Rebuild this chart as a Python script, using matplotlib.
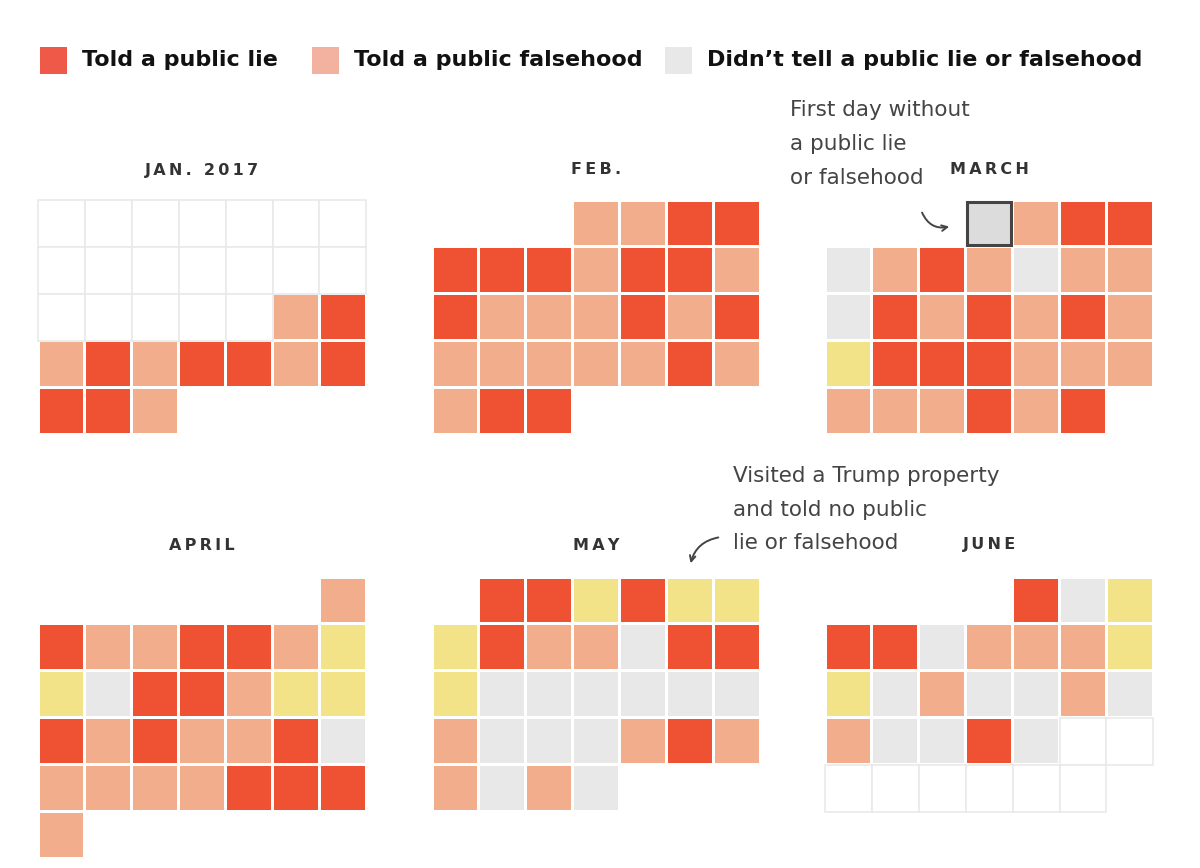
import matplotlib
matplotlib.use("Agg")
import matplotlib.pyplot as plt
from matplotlib.patches import Rectangle
import calendar

# ---- data: one code per day (0 = no data yet, L = lie, F = falsehood,
#      N = no lie/falsehood, Y = visited a Trump property, no lie) ----
months = ["JAN. 2017", "FEB.", "MARCH", "APRIL", "MAY", "JUNE"]
month_numbers = [1, 2, 3, 4, 5, 6]
year = 2017
jan = list("0" * 19 + "FL" + "FLFLLFL" + "LLF")
feb = list("FFLL" + "LLLFLLF" + "LFFFLFL" + "FFFFFLF" + "FLL")
mar = list("NFLL" + "NFLFNFF" + "NLFLFLF" + "YLLLFFF" + "FFFLFL")
apr = list("F" + "LFFLLFY" + "YNLLFYY" + "LFLFFLN" + "FFFFLLL" + "F")
may = list("LLYLYY" + "YLFFNLL" + "YNNNNNN" + "FNNNFLF" + "FNFN")
jun = list("LNY" + "LLNFFFY" + "YNFNNFN" + "FNNLN00" + "000000")
month_days = [jan, feb, mar, apr, may, jun]
highlight = (2, 1)  # March 1: first day without a lie

legend_labels = ["Told a public lie", "Told a public falsehood",
                 "Didn\u2019t tell a public lie or falsehood"]
note_march = ["First day without", "a public lie", "or falsehood"]
note_may = ["Visited a Trump property", "and told no public", "lie or falsehood"]

colors = {"L": "#ee5232", "F": "#f2ae8c", "N": "#e8e8e8", "Y": "#f3e388"}
legend_colors = ["#ef5a48", "#f3b2a0", "#e8e8e8"]

# ---- layout (pixel space) ----
W, H = 1200, 868
fig = plt.figure(figsize=(W / 100, H / 100), dpi=100)
ax = fig.add_axes([0, 0, 1, 1])
ax.set_xlim(0, W)
ax.set_ylim(H, 0)
ax.axis("off")

col_x0 = [38, 432, 825]
row_y0 = [200, 577]
title_y = [170, 545]
pitch = 46.9
gap = 3.0

for mi, (name, mnum, days) in enumerate(zip(months, month_numbers, month_days)):
    gx = col_x0[mi % 3]
    gy = row_y0[mi // 3]
    spaced = "\u2009".join(name)
    ax.text(gx + 3.5 * pitch, title_y[mi // 3], spaced, ha="center", va="center",
            fontsize=11.5, color="#333333", fontweight="semibold",
            family="DejaVu Sans")
    first_wd = (calendar.weekday(year, mnum, 1) + 1) % 7  # Sunday = 0
    for d, code in enumerate(days):
        idx = first_wd + d
        r, c = idx // 7, idx % 7
        x = gx + c * pitch
        y = gy + r * pitch
        if code == "0":
            ax.add_patch(Rectangle((x, y), pitch, pitch, facecolor="white",
                                   edgecolor="#e8e8e8", lw=1.1, zorder=1))
        else:
            ax.add_patch(Rectangle((x + gap / 2, y + gap / 2), pitch - gap,
                                   pitch - gap, facecolor=colors[code],
                                   edgecolor="none", zorder=2))
        if (mi, d + 1) == highlight:
            ax.add_patch(Rectangle((x + gap / 2, y + gap / 2), pitch - gap,
                                   pitch - gap, facecolor="#dcdcdc",
                                   edgecolor="#444444", lw=2.2, zorder=3))

# ---- legend ----
leg_x = [40, 312, 665]
for lx, lab, lc in zip(leg_x, legend_labels, legend_colors):
    ax.add_patch(Rectangle((lx, 47), 27, 27, facecolor=lc, edgecolor="none"))
    ax.text(lx + 42, 60, lab, ha="left", va="center", fontsize=16,
            fontweight="bold", color="#111111", family="DejaVu Sans")

# ---- annotations ----
for i, line in enumerate(note_march):
    ax.text(790, 110 + i * 34, line, ha="left", va="center", fontsize=15.5,
            color="#444444", family="DejaVu Sans")
ax.annotate("", xy=(952, 226), xytext=(921, 210),
            arrowprops=dict(arrowstyle="->", color="#444444", lw=1.4,
                            connectionstyle="arc3,rad=0.45"))

for i, line in enumerate(note_may):
    ax.text(733, 476 + i * 33.5, line, ha="left", va="center", fontsize=15.5,
            color="#444444", family="DejaVu Sans")
ax.annotate("", xy=(690, 566), xytext=(721, 537),
            arrowprops=dict(arrowstyle="->", color="#444444", lw=1.4,
                            connectionstyle="arc3,rad=0.35"))

fig.savefig("out.png", dpi=100)
